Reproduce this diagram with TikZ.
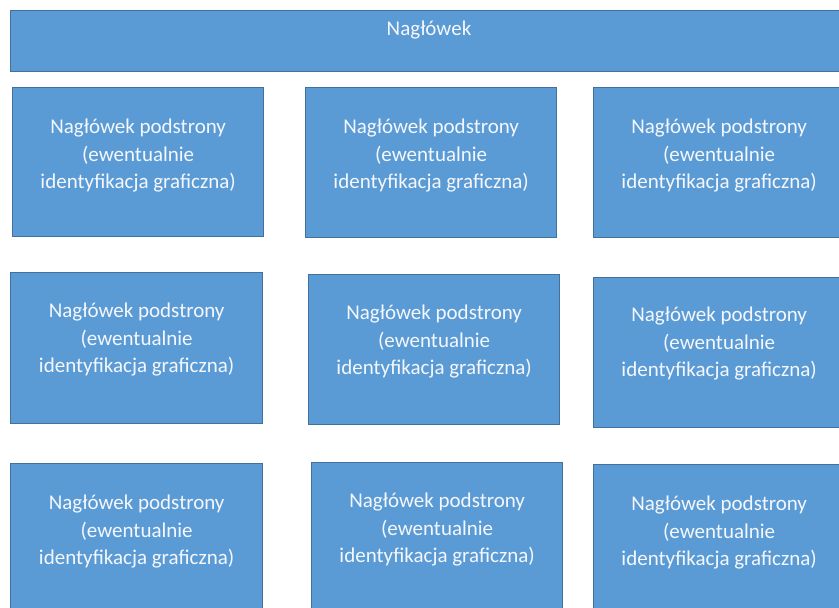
\documentclass[tikz,border=0pt]{standalone}
\usepackage{fontspec}
\setmainfont{Carlito}
\definecolor{boxfill}{HTML}{5B9BD5}
\definecolor{boxline}{HTML}{41719C}
\definecolor{boxtext}{HTML}{F4F7FC}
\tikzset{
  pagebox/.style={draw=boxline, fill=boxfill, line width=1.3pt, inner sep=0pt, anchor=north west},
  boxlabel/.style={text=boxtext, align=center, inner sep=0pt, anchor=north,
    font=\fontsize{21}{27.5}\selectfont},
  headlabel/.style={text=boxtext, inner sep=0pt, anchor=base,
    font=\fontsize{21}{27.5}\selectfont}
}
\newcommand{\boxtxt}{Nagłówek podstrony\\(ewentualnie\\identyfikacja graficzna)}
\begin{document}
\begin{tikzpicture}[x=1pt,y=-1pt]
\useasboundingbox (0,0) rectangle (839,608);
\fill[white] (0,0) rectangle (839,608);
\clip (0,0) rectangle (839,608);
% header
\node[pagebox, minimum width=850pt, minimum height=61pt] (head) at (10,10) {};
\node[headlabel] (headt) at (429,35) {Nagłówek};
% row 1
\node[pagebox, minimum width=251pt, minimum height=149pt] (b11) at (12,87) {};
\node[pagebox, minimum width=251pt, minimum height=150pt] (b12) at (305,87) {};
\node[pagebox, minimum width=251pt, minimum height=150pt] (b13) at (593,87) {};
% row 2
\node[pagebox, minimum width=252pt, minimum height=151pt] (b21) at (10,272) {};
\node[pagebox, minimum width=251pt, minimum height=150pt] (b22) at (308,274) {};
\node[pagebox, minimum width=251pt, minimum height=150pt] (b23) at (593,277) {};
% row 3
\node[pagebox, minimum width=252pt, minimum height=160pt] (b31) at (10,463) {};
\node[pagebox, minimum width=251pt, minimum height=160pt] (b32) at (311,462) {};
\node[pagebox, minimum width=251pt, minimum height=160pt] (b33) at (593,464) {};
% labels
\foreach \b/\d in {b11/32,b12/32,b13/32,b21/31,b22/31,b23/30,b31/32,b32/31,b33/32}{
  \node[boxlabel] (\b t) at ([yshift=-\d pt]\b.north) {\boxtxt};
}
\end{tikzpicture}
\end{document}
